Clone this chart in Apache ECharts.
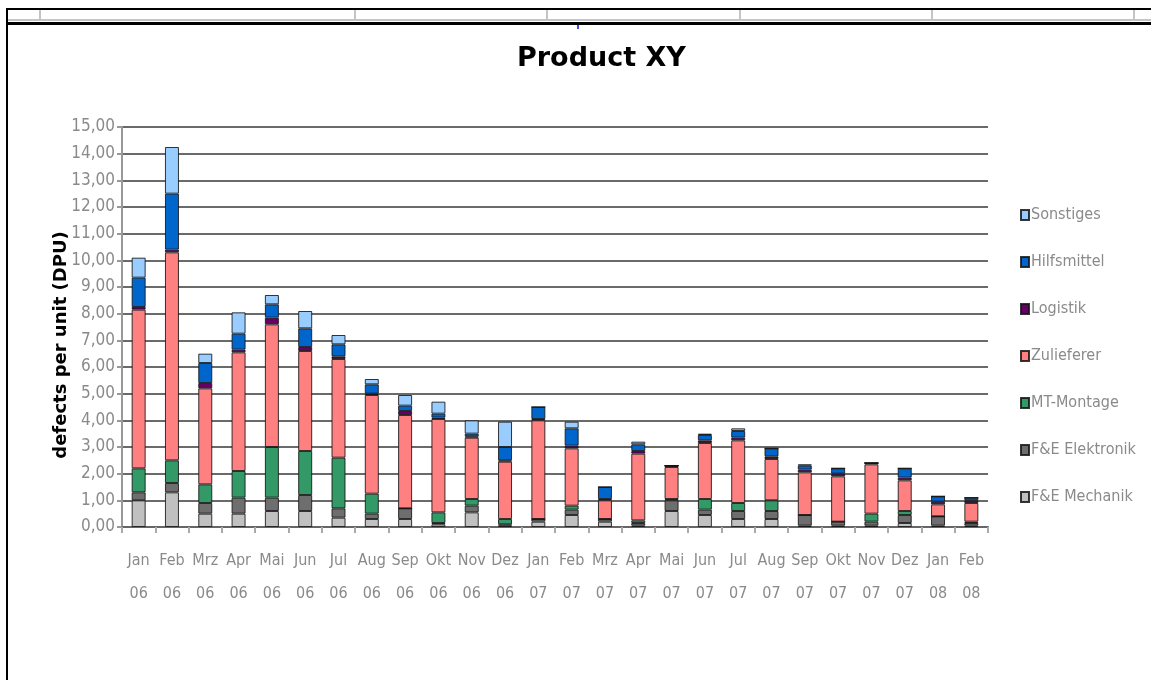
<!DOCTYPE html>
<html>
<head>
<meta charset="utf-8">
<script src="https://cdn.jsdelivr.net/npm/echarts@6/dist/echarts.min.js"></script>
<style>
html,body{margin:0;padding:0;background:#fff;}
#chart{width:1151px;height:680px;}
</style>
</head>
<body>
<div id="chart"></div>
<script>
// ---- data ----
var categories = ['Jan 06','Feb 06','Mrz 06','Apr 06','Mai 06','Jun 06','Jul 06','Aug 06','Sep 06','Okt 06','Nov 06','Dez 06',
                  'Jan 07','Feb 07','Mrz 07','Apr 07','Mai 07','Jun 07','Jul 07','Aug 07','Sep 07','Okt 07','Nov 07','Dez 07',
                  'Jan 08','Feb 08'];
var seriesNames = ['F&E Mechanik','F&E Elektronik','MT-Montage','Zulieferer','Logistik','Hilfsmittel','Sonstiges'];
var mechanik    = [1.0,1.3,0.5,0.5,0.6,0.6,0.35,0.3,0.3,0.1,0.55,0.05,0.2,0.45,0.2,0.05,0.6,0.45,0.3,0.3,0.05,0.05,0.05,0.15,0.05,0.05];
var elektronik  = [0.3,0.35,0.4,0.6,0.5,0.6,0.35,0.2,0.4,0.05,0.25,0.05,0.1,0.2,0.1,0.1,0.4,0.2,0.3,0.3,0.4,0.15,0.15,0.3,0.35,0.1];
var montage     = [0.9,0.85,0.7,1.0,1.9,1.65,1.9,0.75,0,0.4,0.25,0.2,0,0.15,0,0.1,0.05,0.4,0.3,0.4,0,0,0.3,0.15,0,0.05];
var zulieferer  = [5.95,7.8,3.6,4.45,4.6,3.75,3.7,3.7,3.5,3.5,2.3,2.15,3.7,2.15,0.7,2.5,1.2,2.1,2.35,1.55,1.6,1.7,1.85,1.15,0.45,0.7];
var logistik    = [0.1,0.1,0.2,0.1,0.25,0.15,0.1,0.05,0.15,0.05,0.05,0.05,0.05,0.1,0.05,0.1,0.05,0.1,0.1,0.1,0.1,0.1,0.05,0.1,0.1,0.1];
var hilfsmittel = [1.1,2.1,0.75,0.6,0.5,0.7,0.45,0.35,0.2,0.15,0.1,0.5,0.45,0.65,0.45,0.25,0,0.2,0.25,0.3,0.15,0.2,0,0.35,0.2,0.1];
var sonstiges   = [0.75,1.75,0.35,0.8,0.35,0.65,0.35,0.2,0.4,0.45,0.5,0.95,0,0.25,0,0.1,0,0.05,0.1,0,0.05,0,0,0,0,0];
var yTicks = [0,1,2,3,4,5,6,7,8,9,10,11,12,13,14,15];
var yTitle = 'defects per unit (DPU)';

var values = [mechanik, elektronik, montage, zulieferer, logistik, hilfsmittel, sonstiges];
var colors = ['#c0c0c0','#6e6e6e','#339966','#ff8080','#660066','#0066cc','#99ccff'];

var narrow = "'Liberation Sans Narrow','DejaVu Sans Condensed','Liberation Sans',sans-serif";

var chart = echarts.init(document.getElementById('chart'));
var series = seriesNames.map(function(n,i){
  return {
    name:n, type:'bar', stack:'total', barWidth:14,
    data: values[i],
    itemStyle:{color:colors[i], borderColor:'rgba(20,20,20,0.85)', borderWidth:1},
    emphasis:{disabled:true}
  };
});

var legendOrder = seriesNames.slice().reverse();

chart.setOption({
  animation:false,
  backgroundColor:'#ffffff',
  title:{
    text:'Product XY', left:512, top:40,
    textStyle:{fontFamily:"'DejaVu Sans',sans-serif", fontWeight:'bold', fontSize:27, color:'#000'}
  },
  legend:{
    data:legendOrder, orient:'vertical', left:1020, top:205,
    icon:'rect', itemWidth:8, itemHeight:10, itemGap:27, padding:0,
    textStyle:{fontFamily:narrow, fontSize:16, color:'#8a8a8a', lineHeight:20, padding:[0,0,0,-3]},
    selectedMode:false
  },
  grid:{left:122, right:163, top:127, bottom:153, containLabel:false},
  xAxis:{
    type:'category', data:categories, boundaryGap:true,
    axisLine:{lineStyle:{color:'#666', width:2}},
    axisTick:{show:true, length:6, lineStyle:{color:'#aaa', width:2}},
    axisLabel:{
      interval:0, margin:17, color:'#8a8a8a', fontFamily:narrow, fontSize:16, lineHeight:33,
      formatter:function(v){return v.replace(' ','\n');}
    }
  },
  yAxis:{
    type:'value', min:yTicks[0], max:yTicks[yTicks.length-1], interval:1,
    axisLine:{show:true, lineStyle:{color:'#999', width:2}},
    axisTick:{show:true, length:5, lineStyle:{color:'#999', width:2}},
    axisLabel:{color:'#8a8a8a', fontFamily:narrow, fontSize:17, margin:7,
      formatter:function(v){return v.toFixed(2).replace('.',',');}},
    splitLine:{lineStyle:{color:'#6a6a6a', width:2}}
  },
  graphic:[
    {type:'text', x:61, y:345, rotation:Math.PI/2, silent:true,
      style:{text:yTitle, align:'center', verticalAlign:'middle',
        font:"bold 18px 'DejaVu Sans', sans-serif", fill:'#000'}},
    {type:'line', shape:{x1:7,y1:9,x2:1151,y2:9}, style:{stroke:'#000', lineWidth:2}, silent:true},
    {type:'line', shape:{x1:7,y1:20,x2:1151,y2:20}, style:{stroke:'#c4c4c4', lineWidth:2}, silent:true},
    {type:'line', shape:{x1:7,y1:23.5,x2:1151,y2:23.5}, style:{stroke:'#000', lineWidth:3}, silent:true},
    {type:'line', shape:{x1:7,y1:8,x2:7,y2:680}, style:{stroke:'#000', lineWidth:2}, silent:true},
    {type:'line', shape:{x1:40,y1:10,x2:40,y2:20}, style:{stroke:'#c4c4c4', lineWidth:2}, silent:true},
    {type:'line', shape:{x1:355,y1:10,x2:355,y2:20}, style:{stroke:'#c4c4c4', lineWidth:2}, silent:true},
    {type:'line', shape:{x1:547,y1:10,x2:547,y2:20}, style:{stroke:'#c4c4c4', lineWidth:2}, silent:true},
    {type:'line', shape:{x1:740,y1:10,x2:740,y2:20}, style:{stroke:'#c4c4c4', lineWidth:2}, silent:true},
    {type:'line', shape:{x1:932,y1:10,x2:932,y2:20}, style:{stroke:'#c4c4c4', lineWidth:2}, silent:true},
    {type:'line', shape:{x1:1134,y1:10,x2:1134,y2:20}, style:{stroke:'#c4c4c4', lineWidth:2}, silent:true},
    {type:'rect', shape:{x:577,y:25,width:2,height:4}, style:{fill:'#4a4ae0'}, silent:true}
  ],
  series:series
});
</script>
</body>
</html>
